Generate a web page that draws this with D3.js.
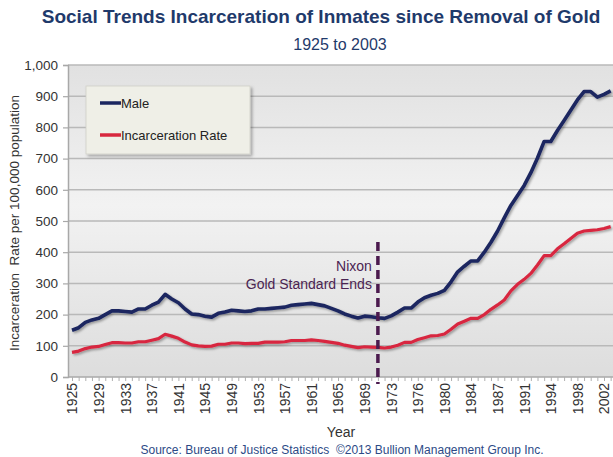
<!DOCTYPE html>
<html><head><meta charset="utf-8">
<script src="https://cdn.jsdelivr.net/npm/d3@7"></script>
<style>
html,body{margin:0;padding:0;background:#fff;}
svg{display:block;font-family:"Liberation Sans",Arial,sans-serif;}
</style></head>
<body>
<svg id="c" width="613" height="457"></svg>
<script>
// Category years (the source table repeats three years)
const years = [1925,1926,1927,1928,1929,1930,1931,1932,1933,1934,1935,1936,1937,1938,1939,1940,1941,1942,1943,1944,1945,1946,1947,1948,1949,1950,1951,1952,1953,1954,1955,1956,1957,1958,1959,1960,1961,1962,1963,1964,1965,1966,1967,1968,1969,1970,1971,1972,1973,1974,1975,1975,1976,1977,1978,1979,1980,1981,1982,1983,1984,1984,1985,1986,1987,1988,1989,1990,1991,1992,1993,1993,1994,1995,1996,1997,1998,1999,2000,2001,2002,2003];
const male = [150,158,175,183,188,200,212,212,210,208,218,218,230,240,265,250,238,218,202,200,195,192,204,208,214,212,210,212,218,218,220,222,224,230,232,234,236,232,228,220,212,202,195,189,195,193,190,188,196,208,221,221,240,254,262,268,278,305,337,355,372,372,400,432,468,510,550,582,614,655,702,755,755,790,822,855,888,915,915,897,906,917];
const rate = [79,83,91,96,98,104,110,110,109,109,113,113,118,123,137,131,124,112,103,100,98,99,105,105,109,109,107,108,108,112,112,112,113,117,117,117,119,117,114,111,108,102,98,94,97,96,95,93,96,102,111,111,120,126,132,133,138,153,170,179,188,188,200,217,231,247,276,297,313,332,359,389,389,411,427,444,461,468,470,472,476,482];
const yTicks = [0,100,200,300,400,500,600,700,800,900,1000];
const seriesNames = ["Male","Incarceration Rate"];
const seriesColors = ["#1b2660","#d8283f"];
const nixonIndex = 46; // 1971

const svg = d3.select("#c");
const plot = {left:68, right:613, top:65, bottom:377};

const idx = d3.range(years.length);
const x = d3.scalePoint().domain(idx).range([72, 610.65]);
const y = d3.scaleLinear().domain([0,1000]).range([plot.bottom, plot.top]);

const defs = svg.append("defs");
const g = defs.append("linearGradient").attr("id","bg").attr("x1",0).attr("y1",0).attr("x2",0).attr("y2",1);
g.append("stop").attr("offset","0%").attr("stop-color","#e1e1e1");
g.append("stop").attr("offset","45%").attr("stop-color","#f2f2f2");
g.append("stop").attr("offset","100%").attr("stop-color","#dddddd");
const sh = defs.append("filter").attr("id","sh").attr("x","-10%").attr("y","-10%").attr("width","130%").attr("height","140%");
sh.append("feDropShadow").attr("dx",1.5).attr("dy",1.5).attr("stdDeviation",1).attr("flood-color","#000").attr("flood-opacity",0.35);
const sh2 = defs.append("filter").attr("id","sh2").attr("x","-10%").attr("y","-10%").attr("width","130%").attr("height","140%");
sh2.append("feDropShadow").attr("dx",2).attr("dy",2).attr("stdDeviation",1.5).attr("flood-color","#000").attr("flood-opacity",0.3);

// plot background
svg.append("rect").attr("x",plot.left).attr("y",plot.top).attr("width",plot.right-plot.left).attr("height",plot.bottom-plot.top).attr("fill","url(#bg)");

// gridlines
svg.append("g").selectAll("line").data(yTicks.filter(d=>d>0)).join("line")
  .attr("x1",plot.left).attr("x2",plot.right).attr("y1",d=>y(d)).attr("y2",d=>y(d))
  .attr("stroke","#b9b9b9").attr("stroke-width",1.5);

// y axis
const yAxis = d3.axisLeft(y).tickValues(yTicks).tickSize(5).tickPadding(5).tickFormat(d3.format(","));
const ya = svg.append("g").attr("transform",`translate(${plot.left},0)`).call(yAxis);
ya.select(".domain").attr("stroke","#a8a8a8").attr("stroke-width",1.5);
ya.selectAll(".tick line").attr("stroke","#a8a8a8").attr("stroke-width",1.2);
ya.selectAll("text").attr("font-size",13.5).attr("fill","#333").attr("font-family","Liberation Sans, Arial, sans-serif");

// x axis
const xAxis = d3.axisBottom(x).tickSize(4).tickFormat(()=> "");
const xa = svg.append("g").attr("transform",`translate(0,${plot.bottom})`).call(xAxis);
xa.select(".domain").attr("d",`M${plot.left},0H${plot.right}`).attr("stroke","#a8a8a8").attr("stroke-width",1.5);
xa.selectAll(".tick line").attr("stroke","#b0b0b0").attr("stroke-width",1);
xa.selectAll(".tick").filter(d=>d%4===0).append("text")
  .attr("transform","rotate(-90)").attr("x",-6).attr("y",0).attr("dy","0.35em")
  .attr("text-anchor","end").attr("font-size",14).attr("fill","#333")
  .attr("font-family","Liberation Sans, Arial, sans-serif")
  .text(d=>years[d]);

// lines
const line = d3.line().x((d,i)=>x(i)).y(d=>y(d)).curve(d3.curveLinear);
[rate, male].forEach((s,k)=>{
  const color = k===0 ? seriesColors[1] : seriesColors[0];
  svg.append("path").datum(s).attr("d",line).attr("fill","none")
    .attr("stroke",color).attr("stroke-width",k===0?3.2:3.6)
    .attr("stroke-linejoin","round").attr("filter","url(#sh)");
});

// Nixon marker
svg.append("line").attr("x1",x(nixonIndex)).attr("x2",x(nixonIndex))
  .attr("y1",242).attr("y2",384).attr("stroke","#4b1a4e").attr("stroke-width",3.5)
  .attr("stroke-dasharray","9,5");
svg.append("text").attr("x",x(nixonIndex)-6).attr("y",271).attr("text-anchor","end")
  .attr("font-size",14).attr("fill","#4b2452").text("Nixon");
svg.append("text").attr("x",x(nixonIndex)-6).attr("y",289).attr("text-anchor","end")
  .attr("font-size",14).attr("fill","#4b2452").text("Gold Standard Ends");

// legend
const lg = svg.append("g");
lg.append("rect").attr("x",86).attr("y",86).attr("width",164).attr("height",68)
  .attr("fill","#efefe7").attr("stroke","#d0d0c8").attr("stroke-width",0.8).attr("filter","url(#sh2)");
seriesNames.forEach((n,i)=>{
  const yy = 103 + i*32;
  lg.append("line").attr("x1",100).attr("x2",121).attr("y1",yy).attr("y2",yy)
    .attr("stroke",seriesColors[i]).attr("stroke-width",3.5);
  lg.append("text").attr("x",121).attr("y",yy).attr("dy","0.35em")
    .attr("font-size",13).attr("fill","#222").text(n);
});

// titles
const t = svg.append("text").attr("x",321).attr("y",23).attr("text-anchor","middle")
  .attr("font-size",19).attr("font-weight","bold").attr("fill","#1f3a6b")
  .text("Social Trends Incarceration of Inmates since Removal of Gold");
const tl = t.node().getComputedTextLength();
t.attr("font-size", Math.min(19, 19*566/tl));
svg.append("text").attr("x",340).attr("y",50).attr("text-anchor","middle")
  .attr("font-size",16).attr("fill","#1f3a6b").text("1925 to 2003");

// axis titles
svg.append("text").attr("transform",`translate(19,${(plot.top+plot.bottom)/2+2}) rotate(-90)`)
  .attr("text-anchor","middle").attr("font-size",13.5).attr("fill","#333")
  .attr("xml:space","preserve").text("Incarceration  Rate per 100,000 population");
svg.append("text").attr("x",341).attr("y",437).attr("text-anchor","middle")
  .attr("font-size",14).attr("fill","#333").text("Year");
svg.append("text").attr("x",342).attr("y",454).attr("text-anchor","middle")
  .attr("font-size",12).attr("fill","#2c4a86").attr("xml:space","preserve")
  .text("Source: Bureau of Justice Statistics  ©2013 Bullion Management Group Inc.");
</script>
</body></html>
